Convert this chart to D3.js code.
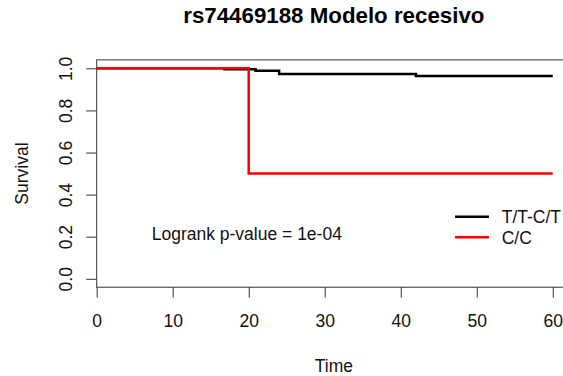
<!DOCTYPE html>
<html>
<head>
<meta charset="utf-8">
<script src="https://cdn.jsdelivr.net/npm/d3@7"></script>
<style>
	body { margin: 0; background: #fff; }
	svg { display: block; font-family: "Liberation Sans", Arial, sans-serif; }
	.tick line { stroke: #333; }
	.tick text { font-size: 17.5px; fill: #111; }
</style>
</head>
<body>
<svg id="chart" width="563" height="376"></svg>
<script>
	// data
	var groups = ["T/T-C/T", "C/C"];
	var groupColors = ["#000000", "#ff0000"];
	var timeTT = [0, 16.8, 20.9, 24, 42, 60];
	var survTT = [1, 0.995, 0.989, 0.973, 0.963, 0.963];
	var timeCC = [0, 20, 60];
	var survCC = [1, 0.5, 0.5];
	var xTicks = [0, 10, 20, 30, 40, 50, 60];
	var yTicks = [0, 0.2, 0.4, 0.6, 0.8, 1.0];
	var title = "rs74469188 Modelo recesivo";
	var pText = "Logrank p-value = 1e-04";

	var svg = d3.select("#chart");

	// R style: x starts at 0 and gets 4% extra on the right, y gets 4% both sides
	var x = d3.scaleLinear().domain([0, 62.4]).range([96.7, 571]);
	var y = d3.scaleLinear().domain([-0.04, 1.04]).range([287.2, 59.9]);

	var xAxis = d3.axisBottom(x).tickValues(xTicks).tickSize(10.5).tickFormat(d3.format("d"));
	svg.append("g")
		.attr("transform", "translate(0," + y.range()[0] + ")")
		.call(xAxis)
		.call(function (g) { g.select(".domain").remove(); })
		.selectAll("text")
		.attr("y", 40).attr("dy", 0);

	var yAxis = d3.axisLeft(y).tickValues(yTicks).tickSize(10.5).tickFormat(d3.format(".1f"));
	svg.append("g")
		.attr("transform", "translate(" + x.range()[0] + ",0)")
		.call(yAxis)
		.call(function (g) { g.select(".domain").remove(); })
		.selectAll("text")
		.attr("x", 0).attr("dy", 0)
		.attr("text-anchor", "middle")
		.attr("transform", "translate(-25,0) rotate(-90)");

	// plot box
	svg.append("rect")
		.attr("x", x.range()[0])
		.attr("y", y.range()[1])
		.attr("width", x.range()[1] - x.range()[0])
		.attr("height", y.range()[0] - y.range()[1])
		.attr("fill", "none")
		.attr("stroke", "#333")
		.attr("stroke-width", 1);

	var line = d3.line()
		.x(function (d) { return x(d[0]); })
		.y(function (d) { return y(d[1]); })
		.curve(d3.curveStepAfter);

	var curves = [d3.zip(timeTT, survTT), d3.zip(timeCC, survCC)];
	svg.selectAll(".km")
		.data(curves).enter()
		.append("path")
		.attr("class", "km")
		.attr("d", line)
		.attr("fill", "none")
		.attr("stroke", function (d, i) { return groupColors[i]; })
		.attr("stroke-width", 2.5);

	// title and axis labels
	svg.append("text")
		.attr("x", (x.range()[0] + x.range()[1]) / 2)
		.attr("y", 23)
		.attr("text-anchor", "middle")
		.style("font-size", "22.3px")
		.style("font-weight", "bold")
		.text(title);

	svg.append("text")
		.attr("x", (x.range()[0] + x.range()[1]) / 2)
		.attr("y", 371.5)
		.attr("text-anchor", "middle")
		.style("font-size", "17.5px")
		.attr("fill", "#111")
		.text("Time");

	svg.append("text")
		.attr("transform", "translate(28," + (y.range()[0] + y.range()[1]) / 2 + ") rotate(-90)")
		.attr("text-anchor", "middle")
		.style("font-size", "17.5px")
		.attr("fill", "#111")
		.text("Survival");

	svg.append("text")
		.attr("x", 151.7)
		.attr("y", 240)
		.style("font-size", "17.5px")
		.attr("fill", "#111")
		.text(pText);

	// legend
	var legend = svg.selectAll(".legend")
		.data(groups).enter().append("g")
		.attr("class", "legend")
		.attr("transform", function (d, i) { return "translate(0," + (216.7 + 20.6 * i) + ")"; });
	legend.append("line")
		.attr("x1", 455).attr("x2", 489)
		.attr("stroke", function (d, i) { return groupColors[i]; })
		.attr("stroke-width", 2.5);
	legend.append("text")
		.attr("x", 501.7)
		.attr("y", 6.2)
		.style("font-size", "17.5px")
		.attr("fill", "#111")
		.text(function (d) { return d; });
</script>
</body>
</html>
